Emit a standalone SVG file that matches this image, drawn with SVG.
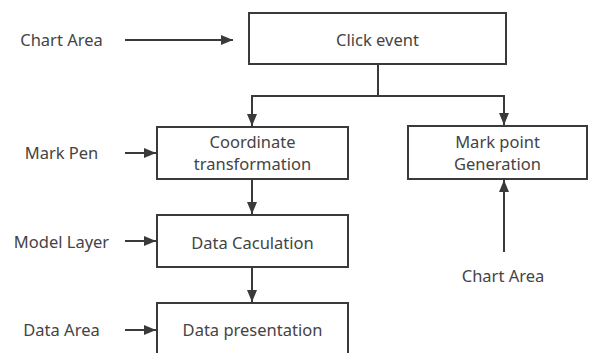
<svg xmlns="http://www.w3.org/2000/svg" width="589" height="353" viewBox="0 0 589 353">
<style>
.box{fill:#fff;stroke:#3a3a3a;stroke-width:2}
.t{font-family:"Noto Sans","Open Sans",sans-serif;font-size:16.5px;fill:#444;text-anchor:middle}
.c{fill:none;stroke:#3a3a3a;stroke-width:2}
</style>
<defs>
<marker id="ah" viewBox="0 0 12 10" refX="12" refY="5" markerWidth="12" markerHeight="10" markerUnits="userSpaceOnUse" orient="auto">
<path d="M0,0 L12,5 L0,10 Z" fill="#3a3a3a"/>
</marker>
</defs>
<rect width="589" height="353" fill="#fff"/>
<g id="click"><rect class="box" x="249" y="13" width="257" height="51"/><text class="t" x="377.5" y="46">Click event</text></g>
<g id="coord"><rect class="box" x="157" y="127" width="191" height="52"/><text class="t" x="252.5" y="148">Coordinate</text><text class="t" x="252.5" y="170">transformation</text></g>
<g id="markpoint"><rect class="box" x="408" y="126" width="179" height="53"/><text class="t" x="497.5" y="148">Mark point</text><text class="t" x="497.5" y="170">Generation</text></g>
<g id="calc"><rect class="box" x="157" y="215" width="191" height="52"/><text class="t" x="252.5" y="249">Data Caculation</text></g>
<g id="present"><rect class="box" x="157" y="303" width="191" height="60"/><text class="t" x="252.5" y="336">Data presentation</text></g>
<g id="lbl-chart1"><text class="t" x="61.5" y="46">Chart Area</text></g>
<g id="lbl-pen"><text class="t" x="61.5" y="159">Mark Pen</text></g>
<g id="lbl-model"><text class="t" x="61.5" y="248">Model Layer</text></g>
<g id="lbl-data"><text class="t" x="61.5" y="336">Data Area</text></g>
<g id="lbl-chart2"><text class="t" x="503" y="282">Chart Area</text></g>
<g id="connectors">
<path class="c" d="M125,40 H233" marker-end="url(#ah)"/>
<path class="c" d="M378,64 V96 H252 V126" marker-end="url(#ah)"/>
<path class="c" d="M378,96 H504 V125" marker-end="url(#ah)"/>
<path class="c" d="M252,179 V214" marker-end="url(#ah)"/>
<path class="c" d="M252,267 V302" marker-end="url(#ah)"/>
<path class="c" d="M125,153 H156" marker-end="url(#ah)"/>
<path class="c" d="M125,241 H156" marker-end="url(#ah)"/>
<path class="c" d="M125,330 H156" marker-end="url(#ah)"/>
<path class="c" d="M504,252 V180" marker-end="url(#ah)"/>
</g>
</svg>
